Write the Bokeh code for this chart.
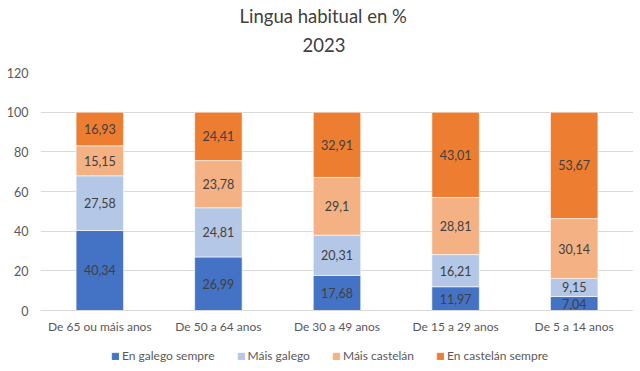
from bokeh.plotting import figure
from bokeh.layouts import column
from bokeh.models import ColumnDataSource, Legend, LegendItem, Title, FactorRange, Range1d, FixedTicker
from bokeh.core.properties import value
from bokeh.embed import file_html
from bokeh.resources import INLINE

categories = ["De 65 ou máis anos", "De 50 a 64 anos", "De 30 a 49 anos", "De 15 a 29 anos", "De 5 a 14 anos"]
series_names = ["En galego sempre", "Máis galego", "Máis castelán", "En castelán sempre"]
galego_sempre = [40.34, 26.99, 17.68, 11.97, 7.04]
mais_galego = [27.58, 24.81, 20.31, 16.21, 9.15]
mais_castelan = [15.15, 23.78, 29.1, 28.81, 30.14]
castelan_sempre = [16.93, 24.41, 32.91, 43.01, 53.67]
y_ticks = [0, 20, 40, 60, 80, 100, 120]
colors = ["#4472C4", "#B4C7E7", "#F4B183", "#ED7D31"]

FONT = "Lato"
keys = ["s0", "s1", "s2", "s3"]
series = [galego_sempre, mais_galego, mais_castelan, castelan_sempre]
data = {"cat": categories}
for k, s in zip(keys, series):
    data[k] = s
source = ColumnDataSource(data)

p = figure(x_range=FactorRange(*categories, range_padding=0), y_range=Range1d(0, 120),
           frame_width=593, frame_height=238, output_backend="svg", toolbar_location=None,
           min_border_left=40, min_border_right=0, min_border_top=0, min_border_bottom=35)
p.outline_line_color = None

renderers = p.vbar_stack(keys, x="cat", width=0.4, color=colors, source=source,
                         line_color="white", line_width=0.6)

# data labels
for i, s in enumerate(series):
    mids = []
    for j in range(len(categories)):
        base = sum(series[k][j] for k in range(i))
        mids.append(base + s[j] / 2.0)
    labels = [("%g" % v).replace(".", ",") for v in s]
    p.text(x=categories, y=mids, text=labels, text_align="center", text_baseline="middle",
           text_font=value(FONT), text_font_size="12.5px", text_color="#404040")

# titles
spacer = Title(text=" ", text_font_size="1px", standoff=11)
t2 = Title(text="2023", align="left", text_font=FONT, text_font_size="18.5px",
           text_font_style="normal", text_color="#404040", offset=262, standoff=14)
t1 = Title(text="Lingua habitual en %", align="left", text_font=FONT, text_font_size="18.5px",
           text_font_style="normal", text_color="#404040", offset=199, standoff=4)
p.add_layout(spacer, "above")
p.add_layout(t2, "above")
p.add_layout(t1, "above")

# axes
p.yaxis.ticker = FixedTicker(ticks=y_ticks)
p.yaxis.axis_line_color = None
p.yaxis.major_tick_line_color = None
p.yaxis.minor_tick_line_color = None
p.yaxis.major_tick_out = 0
p.yaxis.major_label_text_font = FONT
p.yaxis.major_label_text_font_size = "12.5px"
p.yaxis.major_label_text_color = "#595959"
p.yaxis.major_label_standoff = 12

p.xaxis.axis_line_color = "#D9D9D9"
p.xaxis.major_tick_line_color = None
p.xaxis.minor_tick_line_color = None
p.xaxis.major_tick_out = 0
p.xaxis.major_label_text_font = FONT
p.xaxis.major_label_text_font_size = "12px"
p.xaxis.major_label_text_color = "#595959"
p.xaxis.major_label_standoff = 8

p.xgrid.grid_line_color = None
p.ygrid.grid_line_color = "#D9D9D9"
p.ygrid.grid_line_width = 1

# legend in its own strip below the chart (swatch renderers sit outside the visible range)
p2 = figure(width=633, height=20, x_range=Range1d(0, 1), y_range=Range1d(0, 1),
            output_backend="svg", toolbar_location=None, x_axis_location=None, y_axis_location=None,
            min_border_left=0, min_border_right=0, min_border_top=0, min_border_bottom=0)
p2.outline_line_color = None
p2.xgrid.grid_line_color = None
p2.ygrid.grid_line_color = None
leg_renderers = [p2.vbar(x=[-10], top=[-10], width=1, color=c) for c in colors]
legend = Legend(items=[LegendItem(label=n, renderers=[r]) for n, r in zip(series_names, leg_renderers)],
                orientation="horizontal", location=(71, 2),
                label_text_font=FONT, label_text_font_size="12px", label_text_color="#595959",
                glyph_width=8, glyph_height=8, label_standoff=3, spacing=22,
                label_height=14, border_line_color=None, background_fill_alpha=0, padding=0, margin=0)
p2.add_layout(legend)

layout = column(p, p2, spacing=0)
open("out.html", "w").write(file_html(layout, INLINE))
